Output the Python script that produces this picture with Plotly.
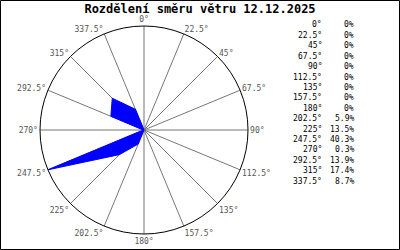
import plotly.graph_objects as go

title_text = "Rozdělení směru větru 12.12.2025"
directions = [0, 22.5, 45, 67.5, 90, 112.5, 135, 157.5, 180, 202.5, 225, 247.5, 270, 292.5, 315, 337.5]
percent = [0, 0, 0, 0, 0, 0, 0, 0, 0, 5.9, 13.5, 40.3, 0.3, 13.9, 17.4, 8.7]


def fmt_angle(a):
    return (f"{a:g}") + "°"


def fmt_pct(p):
    return "0%" if p == 0 else f"{p:.1f}%"


W, H = 400, 250
fig = go.Figure()

fig.add_trace(go.Scatterpolar(
    r=percent + [percent[0]],
    theta=directions + [directions[0]],
    mode="lines",
    fill="toself",
    fillcolor="#0000ff",
    line=dict(color="#0000ff", width=1),
    hoverinfo="skip",
    showlegend=False,
))

fig.update_layout(
    width=W, height=H,
    margin=dict(l=0, r=0, t=0, b=0),
    paper_bgcolor="white",
    plot_bgcolor="white",
    showlegend=False,
    title=dict(text=title_text, x=0.5, xanchor="center", y=1 - 8.5 / H, yanchor="middle",
               font=dict(family="DejaVu Sans Mono", size=12, color="black", weight="bold")),
    polar=dict(
        domain=dict(x=[40 / W, 248 / W], y=[16 / H, 224 / H]),
        bgcolor="white",
        radialaxis=dict(range=[0, max(percent)], visible=False, showgrid=False),
        angularaxis=dict(
            rotation=90, direction="clockwise",
            tickmode="array", tickvals=directions,
            ticktext=[fmt_angle(a) for a in directions],
            tickfont=dict(family="DejaVu Sans Mono", size=8, color="#555555"),
            ticks="", showgrid=True, gridcolor="#777777", gridwidth=1,
            showline=True, linecolor="black", linewidth=1,
        ),
    ),
)

annotations = []
for i, (a, p) in enumerate(zip(directions, percent)):
    y = 1 - (25 + i * 10.4) / H
    annotations.append(dict(x=324 / W, y=y, xref="paper", yref="paper", text=fmt_angle(a),
                            showarrow=False, xanchor="right", yanchor="middle",
                            font=dict(family="DejaVu Sans Mono", size=8, color="black")))
    annotations.append(dict(x=356 / W, y=y, xref="paper", yref="paper", text=fmt_pct(p),
                            showarrow=False, xanchor="right", yanchor="middle",
                            font=dict(family="DejaVu Sans Mono", size=8, color="black")))
fig.update_layout(annotations=annotations)

fig.add_shape(type="rect", xref="paper", yref="paper",
              x0=0.5 / W, x1=1 - 0.5 / W, y0=0.5 / H, y1=1 - 0.5 / H,
              line=dict(color="black", width=1), fillcolor="rgba(0,0,0,0)", layer="above")

fig.write_html("out.html")
